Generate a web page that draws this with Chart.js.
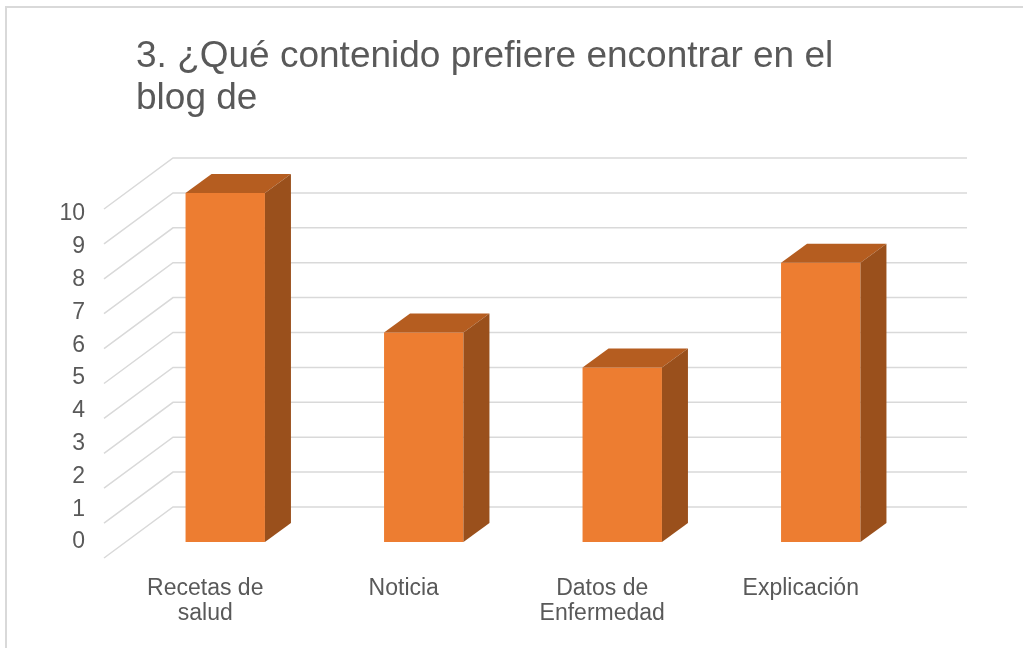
<!DOCTYPE html>
<html>
<head>
<meta charset="utf-8">
<script src="https://cdn.jsdelivr.net/npm/chart.js@4/dist/chart.umd.min.js"></script>
<style>
  html, body { margin: 0; padding: 0; background: #fff; }
  #frame {
    position: absolute; left: 5px; top: 6px; width: 1030px; height: 660px;
    border-top: 2px solid #d9d9d9; border-left: 2px solid #d9d9d9;
  }
  #chart { position: absolute; left: 0; top: 0; }
</style>
</head>
<body>
<div id="frame"></div>
<canvas id="chart" width="1023" height="648"></canvas>
<script>
const titleLines = ["3. ¿Qué contenido prefiere encontrar en el", "blog de"];
const categories = [["Recetas de", "salud"], "Noticia", ["Datos de", "Enfermedad"], "Explicación"];
const values = [10, 6, 5, 8];
const yMin = 0;
const yMax = 10;

const textColor = "#595959";
const fontFamily = "'Liberation Sans', Arial, sans-serif";

// fake 3D: offsets of the back wall / front edge and bar depth, relative to the bar plane
const wall = { backDx: 47, backDy: -35, frontDx: -22, frontDy: 16, gridColor: "#d9d9d9" };
const barDepth = { dx: 26, dy: -19, top: "#b55d20", side: "#9a501c" };

// title sits a bit right of the plot's left edge, so draw it ourselves
const titleBlock = {
  id: "titleBlock",
  afterDraw(chart) {
    const { ctx } = chart;
    ctx.save();
    ctx.fillStyle = textColor;
    ctx.font = "37px " + fontFamily;
    ctx.textBaseline = "middle";
    titleLines.forEach((line, i) => {
      ctx.fillText(line, 136, 57 + i * 42);
    });
    ctx.restore();
  }
};

const walls3d = {
  id: "walls3d",
  beforeDatasetsDraw(chart) {
    const { ctx, chartArea } = chart;
    const y = chart.scales.y;
    ctx.save();
    ctx.strokeStyle = wall.gridColor;
    ctx.lineWidth = 1.5;
    y.ticks.forEach((t) => {
      const py = y.getPixelForValue(t.value);
      ctx.beginPath();
      ctx.moveTo(chartArea.left + wall.frontDx, py + wall.frontDy);
      ctx.lineTo(chartArea.left + wall.backDx, py + wall.backDy);
      ctx.lineTo(chartArea.right + wall.backDx, py + wall.backDy);
      ctx.stroke();
    });
    ctx.restore();
  }
};

const bars3d = {
  id: "bars3d",
  afterDatasetsDraw(chart) {
    const { ctx } = chart;
    const meta = chart.getDatasetMeta(0);
    ctx.save();
    meta.data.forEach((bar) => {
      const p = bar.getProps(["x", "y", "base", "width"], true);
      const l = p.x - p.width / 2;
      const r = p.x + p.width / 2;
      // top face
      ctx.fillStyle = barDepth.top;
      ctx.beginPath();
      ctx.moveTo(l, p.y);
      ctx.lineTo(l + barDepth.dx, p.y + barDepth.dy);
      ctx.lineTo(r + barDepth.dx, p.y + barDepth.dy);
      ctx.lineTo(r, p.y);
      ctx.closePath();
      ctx.fill();
      // side face
      ctx.fillStyle = barDepth.side;
      ctx.beginPath();
      ctx.moveTo(r, p.y);
      ctx.lineTo(r + barDepth.dx, p.y + barDepth.dy);
      ctx.lineTo(r + barDepth.dx, p.base + barDepth.dy);
      ctx.lineTo(r, p.base);
      ctx.closePath();
      ctx.fill();
    });
    ctx.restore();
  }
};

Chart.defaults.font.family = fontFamily;
Chart.defaults.color = textColor;

new Chart(document.getElementById("chart"), {
  type: "bar",
  data: {
    labels: categories,
    datasets: [{
      data: values,
      backgroundColor: "#ed7d31",
      borderWidth: 0,
      categoryPercentage: 1,
      barPercentage: 0.4,
      yAxisID: "y",
      clip: false
    }]
  },
  options: {
    responsive: false,
    animation: false,
    events: [],
    layout: { padding: { top: 193, left: 0, right: 103, bottom: 0 } },
    scales: {
      x: {
        grid: { display: false },
        border: { display: false },
        ticks: {
          font: { size: 23, lineHeight: 1.05 },
          color: textColor,
          padding: 27,
          labelOffset: -20,
          maxRotation: 0
        },
        afterFit: (axis) => { axis.height = 106; }
      },
      y: {
        display: false,
        min: yMin,
        max: yMax,
        ticks: { stepSize: 1 }
      },
      y2: {
        position: "left",
        min: 0,
        max: 10.64,
        grid: { display: false },
        border: { display: false },
        ticks: {
          stepSize: 1,
          includeBounds: false,
          font: { size: 23 },
          color: textColor,
          padding: 33
        },
        afterFit: (axis) => { axis.width = 126; }
      }
    },
    plugins: {
      legend: { display: false },
      tooltip: { enabled: false },
      title: { display: false }
    }
  },
  plugins: [walls3d, bars3d, titleBlock]
});
</script>
</body>
</html>
